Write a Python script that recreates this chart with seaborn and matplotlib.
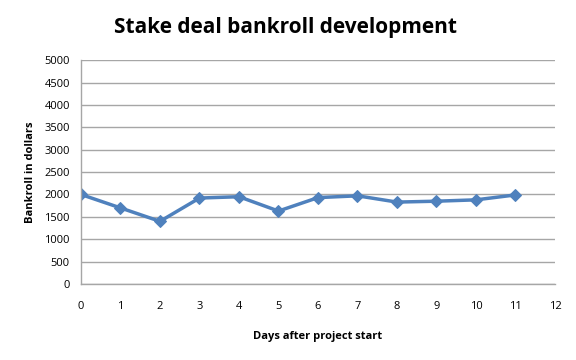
import matplotlib
matplotlib.use('Agg')
import matplotlib.pyplot as plt
import seaborn as sns
import pandas as pd

days = [0, 1, 2, 3, 4, 5, 6, 7, 8, 9, 10, 11]
bankroll = [2000, 1700, 1400, 1920, 1950, 1630, 1930, 1970, 1830, 1850, 1880, 1990]

df = pd.DataFrame({'day': days, 'bankroll': bankroll})

sns.set_style('white')
plt.rcParams['font.family'] = ['Open Sans', 'DejaVu Sans']
plt.rcParams['text.color'] = 'black'
plt.rcParams['axes.labelcolor'] = 'black'

fig = plt.figure(figsize=(5.76, 3.6), dpi=100)
ax = fig.add_axes([0.1406, 0.211, 0.8229, 0.622])

sns.lineplot(data=df, x='day', y='bankroll', ax=ax, color='#4F81BD',
             linewidth=2.5, marker='D', markersize=6.5, markeredgecolor='#4F81BD')

ax.set_xlim(0, 12)
ax.set_ylim(0, 5000)
ax.set_xticks(range(0, 13))
ax.set_yticks(range(0, 5001, 500))
ax.yaxis.grid(True, color='#A6A6A6', linewidth=1)
ax.xaxis.grid(False)
ax.set_axisbelow(True)
for s in ['top', 'right']:
    ax.spines[s].set_visible(False)
for s in ['left', 'bottom']:
    ax.spines[s].set_color('#A6A6A6')
    ax.spines[s].set_linewidth(1)
ax.tick_params(axis='both', which='both', length=4, color='#A6A6A6',
               labelsize=8, labelcolor='black', direction='out')
ax.tick_params(axis='x', pad=8)
ax.tick_params(axis='y', pad=4)

ax.set_xlabel('Days after project start', fontsize=8, fontweight='bold', labelpad=14)
ax.set_ylabel('Bankroll in dollars', fontsize=8, fontweight='bold', labelpad=6)

fig.text(0.495, 0.925, 'Stake deal bankroll development', fontsize=15,
         fontweight='bold', ha='center', va='center', color='black')

fig.savefig('out.png', dpi=100)
